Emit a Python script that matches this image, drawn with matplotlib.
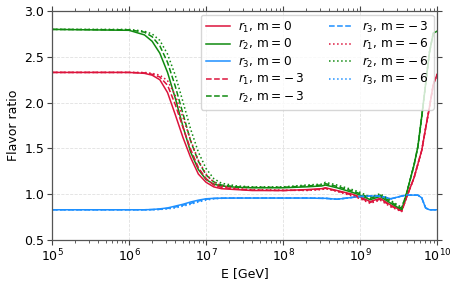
import numpy as np
import matplotlib
matplotlib.use("Agg")
import matplotlib.pyplot as plt

logE = [5.0, 6.0, 6.2, 6.3, 6.4, 6.5, 6.6, 6.7, 6.8, 6.9, 7.0, 7.1, 7.2, 7.4, 7.6, 8.0,
        8.3, 8.5, 8.55, 8.7, 8.9, 9.0, 9.13, 9.26, 9.4, 9.54, 9.6, 9.65, 9.7, 9.75,
        9.8, 9.85, 9.9, 9.95, 10.0]

r1_m0 = [2.33, 2.33, 2.32, 2.30, 2.25, 2.11, 1.87, 1.62, 1.40, 1.22, 1.13, 1.08, 1.06, 1.05, 1.04, 1.04,
         1.05, 1.06, 1.07, 1.04, 1.00, 0.97, 0.92, 0.955, 0.88, 0.82, 0.96, 1.07, 1.18, 1.33,
         1.48, 1.72, 1.95, 2.20, 2.31]
r2_m0 = [2.80, 2.79, 2.74, 2.67, 2.54, 2.33, 2.05, 1.74, 1.46, 1.27, 1.16, 1.11, 1.09, 1.075, 1.07, 1.07,
         1.08, 1.09, 1.10, 1.07, 1.02, 0.99, 0.94, 0.975, 0.90, 0.83, 1.00, 1.16, 1.32, 1.52,
         1.85, 2.20, 2.55, 2.76, 2.78]
r3_m0 = [0.83, 0.83, 0.83, 0.833, 0.84, 0.85, 0.87, 0.89, 0.915, 0.935, 0.95, 0.955, 0.957, 0.958, 0.958, 0.958,
         0.958, 0.955, 0.955, 0.945, 0.965, 0.975, 0.98, 0.98, 0.95, 0.98, 0.99, 0.99, 0.99, 0.99,
         0.96, 0.85, 0.83, 0.83, 0.83]

r1_m3 = [2.33, 2.33, 2.325, 2.31, 2.28, 2.19, 1.98, 1.73, 1.49, 1.29, 1.17, 1.10, 1.075, 1.055, 1.045, 1.04,
         1.045, 1.055, 1.065, 1.035, 0.99, 0.96, 0.91, 0.945, 0.87, 0.815, 0.96, 1.07, 1.18, 1.33,
         1.48, 1.72, 1.95, 2.20, 2.31]
r2_m3 = [2.80, 2.795, 2.77, 2.72, 2.62, 2.44, 2.18, 1.88, 1.58, 1.36, 1.21, 1.135, 1.10, 1.08, 1.075, 1.075,
         1.09, 1.10, 1.115, 1.085, 1.035, 1.005, 0.955, 0.99, 0.915, 0.845, 1.00, 1.16, 1.32, 1.52,
         1.85, 2.20, 2.55, 2.76, 2.78]
r3_m3 = [0.83, 0.83, 0.83, 0.832, 0.835, 0.845, 0.86, 0.88, 0.90, 0.925, 0.945, 0.953, 0.956, 0.958, 0.958, 0.958,
         0.958, 0.955, 0.955, 0.945, 0.965, 0.975, 0.98, 0.98, 0.95, 0.98, 0.99, 0.99, 0.99, 0.99,
         0.96, 0.85, 0.83, 0.83, 0.83]

r1_m6 = [2.33, 2.33, 2.33, 2.32, 2.30, 2.24, 2.08, 1.84, 1.59, 1.37, 1.22, 1.13, 1.09, 1.06, 1.05, 1.045,
         1.04, 1.05, 1.06, 1.03, 0.98, 0.95, 0.90, 0.935, 0.86, 0.81, 0.96, 1.07, 1.18, 1.33,
         1.48, 1.72, 1.95, 2.20, 2.31]
r2_m6 = [2.80, 2.80, 2.78, 2.75, 2.68, 2.53, 2.30, 2.01, 1.71, 1.46, 1.28, 1.17, 1.12, 1.09, 1.08, 1.08,
         1.10, 1.11, 1.13, 1.10, 1.05, 1.02, 0.97, 1.005, 0.93, 0.855, 1.00, 1.16, 1.32, 1.52,
         1.85, 2.20, 2.55, 2.76, 2.78]
r3_m6 = [0.83, 0.83, 0.83, 0.83, 0.833, 0.84, 0.85, 0.87, 0.89, 0.915, 0.935, 0.95, 0.955, 0.958, 0.958, 0.958,
         0.958, 0.955, 0.955, 0.945, 0.965, 0.975, 0.98, 0.98, 0.95, 0.98, 0.99, 0.99, 0.99, 0.99,
         0.96, 0.85, 0.83, 0.83, 0.83]

E = 10.0 ** np.array(logE)

c1, c2, c3 = "#DC143C", "#108A10", "#1E90FF"

fig = plt.figure(figsize=(4.58, 2.84), dpi=100)
ax = fig.add_axes([0.1135, 0.155, 0.841, 0.806])

series = [
    (r1_m0, c1, "-", r"$r_1$, m$=0$"),
    (r2_m0, c2, "-", r"$r_2$, m$=0$"),
    (r3_m0, c3, "-", r"$r_3$, m$=0$"),
    (r1_m3, c1, "--", r"$r_1$, m$=-\:3$"),
    (r2_m3, c2, "--", r"$r_2$, m$=-\:3$"),
    (r3_m3, c3, "--", r"$r_3$, m$=-\:3$"),
    (r1_m6, c1, ":", r"$r_1$, m$=-\:6$"),
    (r2_m6, c2, ":", r"$r_2$, m$=-\:6$"),
    (r3_m6, c3, ":", r"$r_3$, m$=-\:6$"),
]
for vals, col, ls, lab in series:
    ax.plot(E, vals, color=col, ls=ls, lw=1.1, label=lab)

ax.set_xscale("log")
ax.set_xlim(1e5, 1e10)
ax.set_ylim(0.5, 3.0)
ax.set_yticks([0.5, 1.0, 1.5, 2.0, 2.5, 3.0])
ax.set_xlabel("E [GeV]", fontsize=9, labelpad=2)
ax.set_ylabel("Flavor ratio", fontsize=9, labelpad=3)
ax.tick_params(which="both", direction="out", top=True, right=True, labelsize=9, color="#444444", pad=2)
ax.tick_params(which="major", length=3.5, width=0.8)
ax.tick_params(which="minor", length=2, width=0.6)
ax.grid(True, which="major", color="#e0e0e0", ls="--", lw=0.6)
for s in ax.spines.values():
    s.set_color("#555555")
    s.set_linewidth(0.9)
ax.legend(loc="upper right", ncol=2, fontsize=8.7, framealpha=0.8,
          handlelength=2.0, labelspacing=0.2, columnspacing=2.0,
          borderaxespad=0.3, handletextpad=0.7)

fig.savefig("out.png", dpi=100)
